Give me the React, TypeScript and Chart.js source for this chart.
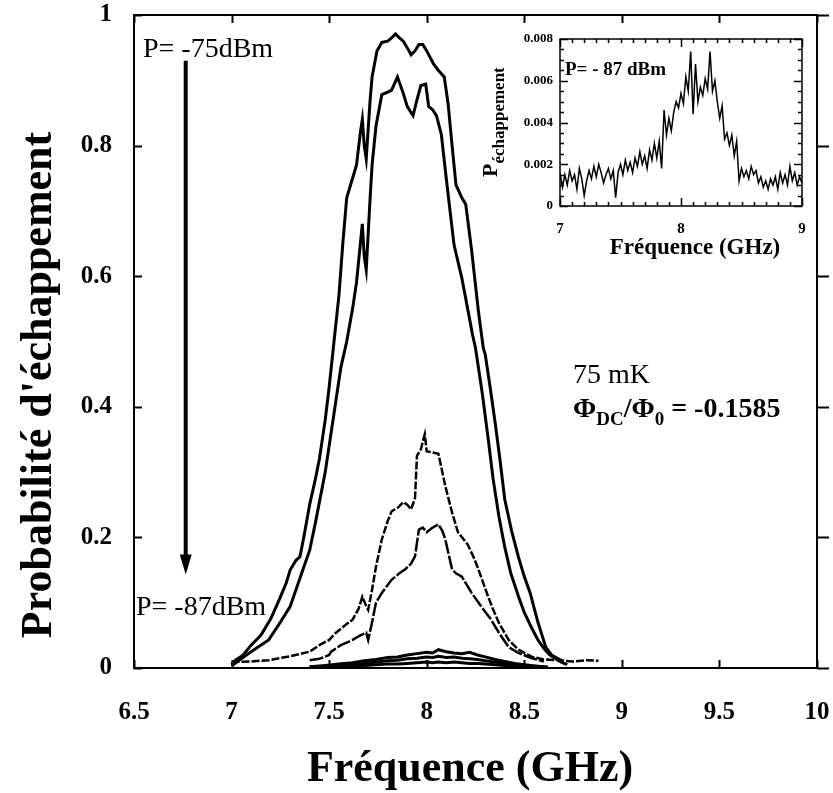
import React, { useEffect, useRef } from 'react';
import { Chart, registerables } from 'chart.js';

Chart.register(...registerables);

const SERIF = '"Liberation Serif", "Times New Roman", serif';

// ---------- Main chart data (frequency GHz, escape probability) ----------
const freqA = [7.0, 7.02, 7.06, 7.1, 7.15, 7.2, 7.245, 7.28, 7.3, 7.33, 7.35, 7.37, 7.4, 7.43, 7.45, 7.48, 7.5, 7.525, 7.55, 7.57, 7.59, 7.62, 7.64, 7.66, 7.67, 7.68, 7.69, 7.71, 7.72, 7.745, 7.77, 7.8, 7.82, 7.84, 7.86, 7.88, 7.9, 7.92, 7.94, 7.96, 7.98, 8.0, 8.035, 8.06, 8.09, 8.11, 8.13, 8.15, 8.18, 8.2, 8.23, 8.265, 8.29, 8.3, 8.325, 8.35, 8.375, 8.4, 8.435, 8.47, 8.5, 8.53, 8.57, 8.61, 8.64, 8.67, 8.7];
const probA = [0.005, 0.012, 0.02, 0.035, 0.05, 0.075, 0.105, 0.13, 0.15, 0.165, 0.17, 0.2, 0.25, 0.29, 0.32, 0.38, 0.43, 0.5, 0.57, 0.65, 0.72, 0.75, 0.77, 0.82, 0.84, 0.8, 0.78, 0.87, 0.905, 0.945, 0.958, 0.96, 0.965, 0.971, 0.965, 0.96, 0.95, 0.939, 0.945, 0.955, 0.955, 0.945, 0.925, 0.915, 0.905, 0.863, 0.8, 0.74, 0.72, 0.71, 0.64, 0.546, 0.49, 0.48, 0.43, 0.377, 0.32, 0.258, 0.21, 0.17, 0.14, 0.115, 0.07, 0.032, 0.02, 0.015, 0.01];

const freqB = [7.0, 7.04, 7.1, 7.19, 7.25, 7.3, 7.36, 7.4, 7.43, 7.48, 7.53, 7.56, 7.59, 7.62, 7.64, 7.66, 7.67, 7.68, 7.69, 7.71, 7.72, 7.74, 7.77, 7.8, 7.82, 7.85, 7.88, 7.9, 7.93, 7.95, 7.97, 7.995, 8.01, 8.03, 8.05, 8.075, 8.1, 8.14, 8.18, 8.21, 8.235, 8.25, 8.285, 8.315, 8.34, 8.37, 8.4, 8.43, 8.47, 8.5, 8.54, 8.57, 8.6, 8.63, 8.69, 8.72];
const probB = [0.003, 0.012, 0.025, 0.043, 0.07, 0.094, 0.146, 0.18, 0.223, 0.3, 0.4, 0.46, 0.5, 0.55, 0.59, 0.65, 0.68, 0.63, 0.61, 0.72, 0.77, 0.83, 0.878, 0.882, 0.885, 0.905, 0.88, 0.86, 0.846, 0.87, 0.892, 0.894, 0.86, 0.855, 0.846, 0.817, 0.75, 0.648, 0.597, 0.55, 0.51, 0.49, 0.42, 0.351, 0.29, 0.232, 0.185, 0.146, 0.11, 0.085, 0.06, 0.043, 0.03, 0.02, 0.009, 0.005];

const freqC = [7.0, 7.1, 7.19, 7.3, 7.4, 7.45, 7.5, 7.535, 7.58, 7.62, 7.65, 7.67, 7.69, 7.7, 7.72, 7.74, 7.77, 7.8, 7.82, 7.85, 7.88, 7.9, 7.92, 7.94, 7.95, 7.97, 7.99, 8.0, 8.03, 8.06, 8.095, 8.13, 8.16, 8.21, 8.24, 8.265, 8.29, 8.315, 8.34, 8.37, 8.42, 8.47, 8.54, 8.6, 8.67, 8.75, 8.82, 8.88];
const probC = [0.009, 0.01, 0.012, 0.018, 0.025, 0.035, 0.043, 0.054, 0.065, 0.074, 0.09, 0.109, 0.095, 0.089, 0.12, 0.155, 0.197, 0.225, 0.24, 0.245, 0.254, 0.25, 0.243, 0.26, 0.325, 0.335, 0.358, 0.332, 0.33, 0.328, 0.279, 0.238, 0.208, 0.189, 0.17, 0.151, 0.13, 0.109, 0.09, 0.069, 0.043, 0.028, 0.017, 0.013, 0.012, 0.01, 0.012, 0.011];

const freqD = [7.4, 7.45, 7.5, 7.51, 7.56, 7.62, 7.66, 7.69, 7.7, 7.72, 7.74, 7.77, 7.82, 7.86, 7.89, 7.92, 7.94, 7.96, 7.98, 8.0, 8.03, 8.06, 8.08, 8.095, 8.13, 8.15, 8.18, 8.2, 8.23, 8.28, 8.33, 8.37, 8.42, 8.47, 8.54, 8.6];
const probD = [0.012, 0.014, 0.02, 0.025, 0.035, 0.043, 0.05, 0.054, 0.043, 0.07, 0.1, 0.115, 0.135, 0.145, 0.151, 0.16, 0.171, 0.212, 0.215, 0.208, 0.215, 0.22, 0.21, 0.197, 0.151, 0.145, 0.14, 0.13, 0.115, 0.094, 0.074, 0.054, 0.032, 0.023, 0.015, 0.01];

const freqE = [7.4, 7.48, 7.55, 7.62, 7.68, 7.74, 7.8, 7.85, 7.9, 7.95, 8.0, 8.03, 8.06, 8.1, 8.14, 8.18, 8.22, 8.26, 8.3, 8.35, 8.4, 8.45, 8.5, 8.56, 8.62];
const probE1 = [0.002, 0.004, 0.006, 0.008, 0.011, 0.013, 0.016, 0.017, 0.02, 0.022, 0.024, 0.023, 0.028, 0.025, 0.023, 0.022, 0.024, 0.02, 0.017, 0.013, 0.01, 0.007, 0.005, 0.003, 0.001];
const probE2 = [0.001, 0.002, 0.004, 0.005, 0.007, 0.009, 0.011, 0.012, 0.014, 0.015, 0.017, 0.016, 0.018, 0.016, 0.017, 0.015, 0.014, 0.013, 0.011, 0.009, 0.007, 0.005, 0.003, 0.002, 0.001];
const probE3 = [0.001, 0.001, 0.002, 0.003, 0.004, 0.005, 0.006, 0.006, 0.007, 0.008, 0.009, 0.008, 0.009, 0.008, 0.009, 0.008, 0.007, 0.007, 0.006, 0.005, 0.004, 0.003, 0.002, 0.001, 0.001];

// ---------- Inset data (-87 dBm), sampled every 0.02 GHz from 7 GHz ----------
const insetStart = 7.0;
const insetStep = 0.02;
const insetProb = [1.6, 0.9, 1.5, 1.0, 1.7, 1.2, 1.5, 0.8, 1.8, 1.3, 0.5, 1.2, 1.7, 1.3, 1.9, 1.4, 2.0, 1.6, 1.1, 1.5, 1.8, 1.3, 1.7, 0.4, 1.6, 2.0, 1.5, 2.2, 1.7, 2.1, 1.6, 2.3, 1.9, 2.6, 2.0, 2.4, 1.8, 2.7, 2.2, 3.0, 2.3, 3.1, 1.8, 4.6, 3.4, 4.2, 3.6, 4.5, 5.0, 4.7, 5.4, 4.9, 6.2, 5.5, 7.4, 4.4, 6.8, 5.0, 5.7, 5.3, 6.1, 5.6, 7.4, 5.5, 6.0, 5.0, 4.2, 4.8, 3.2, 3.5, 2.9, 3.4, 2.4, 3.1, 1.2, 1.8, 1.4, 1.7, 1.3, 1.9, 1.5, 1.7, 1.1, 1.4, 0.9, 1.2, 0.8, 1.3, 1.0, 1.4, 0.8, 1.6, 1.1, 1.5, 1.0, 1.9, 1.2, 1.6, 1.0, 1.4, 1.1]; // x 0.001

// axis ranges / tick steps
const mainX = { min: 6.5, max: 10, step: 0.5 };
const mainY = { min: 0, max: 1, step: 0.2 };
const insetX = { min: 7, max: 9, step: 1, minor: 0.1 };
const insetY = { min: 0, max: 0.008, step: 0.002, minor: 0.0005 };

// annotations
const arrowX = 6.765;
const arrowFrom = 0.93;
const arrowTo = 0.143;

const pts = (xs: number[], ys: number[]) => xs.map((x, i) => ({ x, y: ys[i] }));

function drawFrame(chart: any, o: { frame: number; tw: number; maj: number; min: number; rightOut: boolean; minorX?: number; minorY?: number }) {
  const { ctx, chartArea: a, scales } = chart;
  const xs = scales.x;
  const ys = scales.y;
  ctx.save();
  ctx.strokeStyle = '#000';
  ctx.lineWidth = o.frame;
  ctx.strokeRect(a.left, a.top, a.right - a.left, a.bottom - a.top);
  ctx.lineWidth = o.tw;
  ctx.beginPath();
  const xTick = (v: number, len: number) => {
    const px = Math.round(xs.getPixelForValue(v)) + 0.5;
    ctx.moveTo(px, a.bottom);
    ctx.lineTo(px, a.bottom - len);
    ctx.moveTo(px, a.top);
    ctx.lineTo(px, a.top + len);
  };
  const yTick = (v: number, len: number) => {
    const py = Math.round(ys.getPixelForValue(v)) + 0.5;
    ctx.moveTo(a.left, py);
    ctx.lineTo(a.left + len, py);
    ctx.moveTo(a.right, py);
    ctx.lineTo(o.rightOut ? a.right + len + 4 : a.right - len, py);
  };
  xs.ticks.forEach((t: any) => xTick(t.value, o.maj));
  ys.ticks.forEach((t: any) => yTick(t.value, o.maj));
  if (o.minorX) {
    const n = Math.round((xs.max - xs.min) / o.minorX);
    for (let i = 1; i < n; i++) xTick(xs.min + i * o.minorX, o.min);
  }
  if (o.minorY) {
    const n = Math.round((ys.max - ys.min) / o.minorY);
    for (let i = 1; i < n; i++) yTick(ys.min + i * o.minorY, o.min);
  }
  ctx.stroke();
  ctx.restore();
}

const mainPlugin = {
  id: 'mainDecor',
  afterDraw(chart: any) {
    drawFrame(chart, { frame: 2, tw: 2, maj: 8, min: 0, rightOut: true });
    const { ctx, chartArea: a, scales } = chart;
    const xs = scales.x;
    const ys = scales.y;
    ctx.save();
    ctx.fillStyle = '#000';
    ctx.strokeStyle = '#000';
    // arrow
    const ax = xs.getPixelForValue(arrowX);
    const y0 = ys.getPixelForValue(arrowFrom);
    const y1 = ys.getPixelForValue(arrowTo);
    ctx.lineWidth = 4;
    ctx.beginPath();
    ctx.moveTo(ax, y0);
    ctx.lineTo(ax, y1 - 14);
    ctx.stroke();
    ctx.beginPath();
    ctx.moveTo(ax - 6, y1 - 20);
    ctx.lineTo(ax + 6, y1 - 20);
    ctx.lineTo(ax, y1);
    ctx.closePath();
    ctx.fill();
    // power labels
    ctx.textAlign = 'left';
    ctx.textBaseline = 'alphabetic';
    ctx.font = `28px ${SERIF}`;
    ctx.fillText('P= -75dBm', a.left + 9, a.top + 42);
    ctx.fillText('P= -87dBm', a.left + 2, 615);
    // temperature and flux
    ctx.fillText('75 mK', 573, 383);
    let x = 573;
    const base = 417;
    const big = `bold 28px ${SERIF}`;
    const sub = `bold 19px ${SERIF}`;
    const put = (t: string, f: string, dy: number) => {
      ctx.font = f;
      ctx.fillText(t, x, base + dy);
      x += ctx.measureText(t).width;
    };
    put('Φ', big, 0);
    put('DC', sub, 8);
    put('/', big, 0);
    put('Φ', big, 0);
    put('0', sub, 8);
    put(' = -0.1585', big, 0);
    // axis titles
    ctx.font = `bold 44px ${SERIF}`;
    ctx.textAlign = 'center';
    ctx.textBaseline = 'middle';
    ctx.fillText('Fréquence (GHz)', 470, 770);
    ctx.translate(40, 385);
    ctx.rotate(-Math.PI / 2);
    ctx.fillText("Probabilité d'échappement", 0, 0);
    ctx.restore();
  },
};

const insetPlugin = {
  id: 'insetDecor',
  afterDraw(chart: any) {
    drawFrame(chart, { frame: 1.5, tw: 1.5, maj: 8, min: 4, rightOut: false, minorX: insetX.minor, minorY: insetY.minor });
    const { ctx, chartArea: a } = chart;
    ctx.save();
    ctx.fillStyle = '#000';
    ctx.textAlign = 'left';
    ctx.textBaseline = 'alphabetic';
    ctx.font = `bold 19px ${SERIF}`;
    ctx.fillText('P= - 87 dBm', a.left + 5, 75);
    ctx.font = `bold 23px ${SERIF}`;
    ctx.textAlign = 'center';
    ctx.textBaseline = 'middle';
    ctx.fillText('Fréquence (GHz)', 225, 248);
    ctx.translate(27, 177);
    ctx.rotate(-Math.PI / 2);
    ctx.textAlign = 'left';
    ctx.textBaseline = 'alphabetic';
    ctx.font = `bold 22px ${SERIF}`;
    ctx.fillText('P', 0, 0);
    const w = ctx.measureText('P').width;
    ctx.font = `bold 17px ${SERIF}`;
    ctx.fillText('échappement', w, 7);
    ctx.restore();
  },
};

const tickFont = (size: number) => ({ family: SERIF, size, weight: 'bold' as const });

export default function App() {
  const mainRef = useRef<HTMLCanvasElement>(null);
  const insetRef = useRef<HTMLCanvasElement>(null);

  useEffect(() => {
    const lineDs = (data: any, width: number, dash: number[] = []) => ({
      data,
      borderColor: '#000',
      borderWidth: width,
      borderDash: dash,
      pointRadius: 0,
      fill: false,
      tension: 0,
    });

    const main = new Chart(mainRef.current!, {
      type: 'line',
      data: {
        datasets: [
          lineDs(pts(freqA, probA), 3),
          lineDs(pts(freqB, probB), 3),
          lineDs(pts(freqC, probC), 2.5, [8, 2]),
          lineDs(pts(freqD, probD), 2.5, [14, 2]),
          lineDs(pts(freqE, probE1), 3),
          lineDs(pts(freqE, probE2), 3),
          lineDs(pts(freqE, probE3), 3),
        ],
      },
      options: {
        animation: false,
        responsive: false,
        devicePixelRatio: 1,
        layout: { padding: { left: 0, top: 15, right: 16, bottom: 0 } },
        plugins: { legend: { display: false }, tooltip: { enabled: false } },
        scales: {
          x: {
            type: 'linear',
            min: mainX.min,
            max: mainX.max,
            grid: { display: false, drawTicks: false },
            border: { display: false },
            ticks: {
              stepSize: mainX.step,
              padding: 30,
              color: '#000',
              font: tickFont(25),
              maxRotation: 0,
              autoSkip: false,
              callback: (v: any) => String(+Number(v).toFixed(2)),
            },
            afterFit: (s: any) => {
              s.height = 125;
              s.paddingLeft = 0;
              s.paddingRight = 0;
            },
          },
          y: {
            type: 'linear',
            min: mainY.min,
            max: mainY.max,
            grid: { display: false, drawTicks: false },
            border: { display: false },
            ticks: {
              stepSize: mainY.step,
              padding: 22,
              color: '#000',
              font: tickFont(25),
              callback: (v: any) => String(+Number(v).toFixed(2)),
            },
            afterFit: (s: any) => {
              s.width = 134;
              s.paddingTop = 0;
              s.paddingBottom = 0;
            },
          },
        },
      },
      plugins: [mainPlugin],
    });

    const inset = new Chart(insetRef.current!, {
      type: 'line',
      data: {
        datasets: [
          lineDs(
            insetProb.map((v, i) => ({ x: insetStart + i * insetStep, y: v / 1000 })),
            1.5
          ),
        ],
      },
      options: {
        animation: false,
        responsive: false,
        devicePixelRatio: 1,
        layout: { padding: { left: 0, top: 39, right: 31, bottom: 0 } },
        plugins: { legend: { display: false }, tooltip: { enabled: false } },
        scales: {
          x: {
            type: 'linear',
            min: insetX.min,
            max: insetX.max,
            grid: { display: false, drawTicks: false },
            border: { display: false },
            ticks: {
              stepSize: insetX.step,
              padding: 14,
              color: '#000',
              font: tickFont(15),
              maxRotation: 0,
              autoSkip: false,
              callback: (v: any) => String(+Number(v).toFixed(1)),
            },
            afterFit: (s: any) => {
              s.height = 64;
              s.paddingLeft = 0;
              s.paddingRight = 0;
            },
          },
          y: {
            type: 'linear',
            min: insetY.min,
            max: insetY.max,
            grid: { display: false, drawTicks: false },
            border: { display: false },
            ticks: {
              stepSize: insetY.step,
              padding: 7,
              color: '#000',
              font: tickFont(13),
              callback: (v: any) => (Number(v) === 0 ? '0' : Number(v).toFixed(3)),
            },
            afterFit: (s: any) => {
              s.width = 90;
              s.paddingTop = 0;
              s.paddingBottom = 0;
            },
          },
        },
      },
      plugins: [insetPlugin],
    });

    return () => {
      main.destroy();
      inset.destroy();
    };
  }, []);

  return (
    <div style={{ position: 'absolute', left: 0, top: 0, width: 833, height: 793, background: '#fff' }}>
      <canvas ref={mainRef} width={833} height={793} style={{ position: 'absolute', left: 0, top: 0 }} />
      <canvas ref={insetRef} width={363} height={270} style={{ position: 'absolute', left: 470, top: 0 }} />
    </div>
  );
}
